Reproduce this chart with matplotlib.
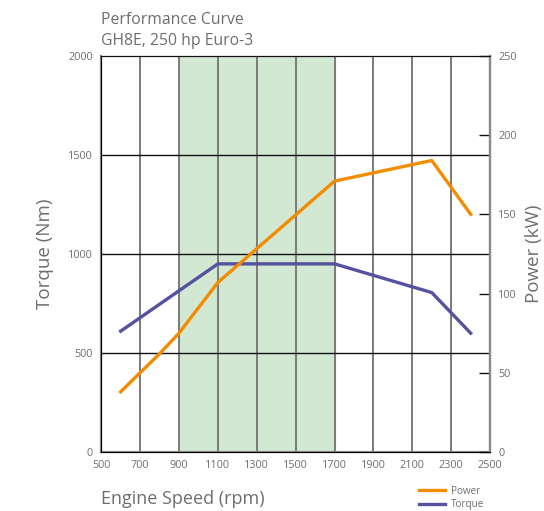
import matplotlib
matplotlib.use("Agg")
import matplotlib.pyplot as plt
from matplotlib.lines import Line2D

plt.rcParams['font.family'] = ['Open Sans', 'DejaVu Sans']

# data
torque_rpm = [600, 1100, 1700, 2200, 2400]
torque_nm = [610, 950, 950, 805, 600]

power_rpm = [600, 700, 800, 900, 1000, 1100, 1700, 2200, 2400]
power_kw = [38, 50, 62, 75, 91, 107, 171, 184, 150]

band = (900, 1700)
x_ticks = list(range(500, 2501, 200))

orange = '#f28c00'
purple = '#5552a0'
grey = '#6e6e6e'

fig = plt.figure(figsize=(5.44, 5.11), dpi=100)
ax = fig.add_axes([0.186, 0.1155, 0.715, 0.775])
ax2 = ax.twinx()

ax.axvspan(band[0], band[1], color='#d3e8d3', zorder=0)
for x in x_ticks[1:-1]:
    ax.axvline(x, color='#7a7a7a', lw=1.4, zorder=1)
for y in [500, 1000, 1500]:
    ax.axhline(y, color='#111111', lw=1.0, zorder=1)

ax.plot(torque_rpm, torque_nm, color=purple, lw=2.4, zorder=3)
ax2.plot(power_rpm, power_kw, color=orange, lw=2.4, zorder=3)

ax.set_xlim(500, 2500)
ax.set_ylim(0, 2000)
ax2.set_ylim(0, 250)
ax.set_xticks(x_ticks)
ax.set_yticks([0, 500, 1000, 1500, 2000])
ax2.set_yticks([0, 50, 100, 150, 200, 250])

ax.tick_params(axis='both', length=0, labelsize=7.8, labelcolor=grey, pad=6)
ax2.tick_params(axis='y', direction='in', length=8, width=1, color='#111111',
                labelsize=7.8, labelcolor=grey, pad=6)

for s in ['left', 'bottom', 'right']:
    ax.spines[s].set_color('#8a8a8a')
    ax.spines[s].set_linewidth(1.6)
ax.spines['top'].set_color('#111111')
ax2.spines['right'].set_color('#8a8a8a')
ax2.spines['right'].set_linewidth(1.6)
ax2.spines['top'].set_color('#111111')

ax.set_ylabel('Torque (Nm)', fontsize=13.5, color=grey, labelpad=10)
ax2.set_ylabel('Power (kW)', fontsize=13.5, color=grey, rotation=90, labelpad=6)

fig.text(0.186, 0.013, 'Engine Speed (rpm)', fontsize=13, color=grey, ha='left')
fig.text(0.186, 0.953, 'Performance Curve', fontsize=11.3, color=grey, ha='left')
fig.text(0.186, 0.912, 'GH8E, 250 hp Euro-3', fontsize=11.3, color=grey, ha='left')

handles = [Line2D([], [], color=orange, lw=2.4), Line2D([], [], color=purple, lw=2.4)]
fig.legend(handles, ['Power', 'Torque'], loc='upper left', bbox_to_anchor=(0.763, 0.057),
           frameon=False, fontsize=7.2, labelcolor=grey, handlelength=2.6,
           handletextpad=0.6, labelspacing=0.25, borderaxespad=0)

fig.savefig('out.png', dpi=100)
